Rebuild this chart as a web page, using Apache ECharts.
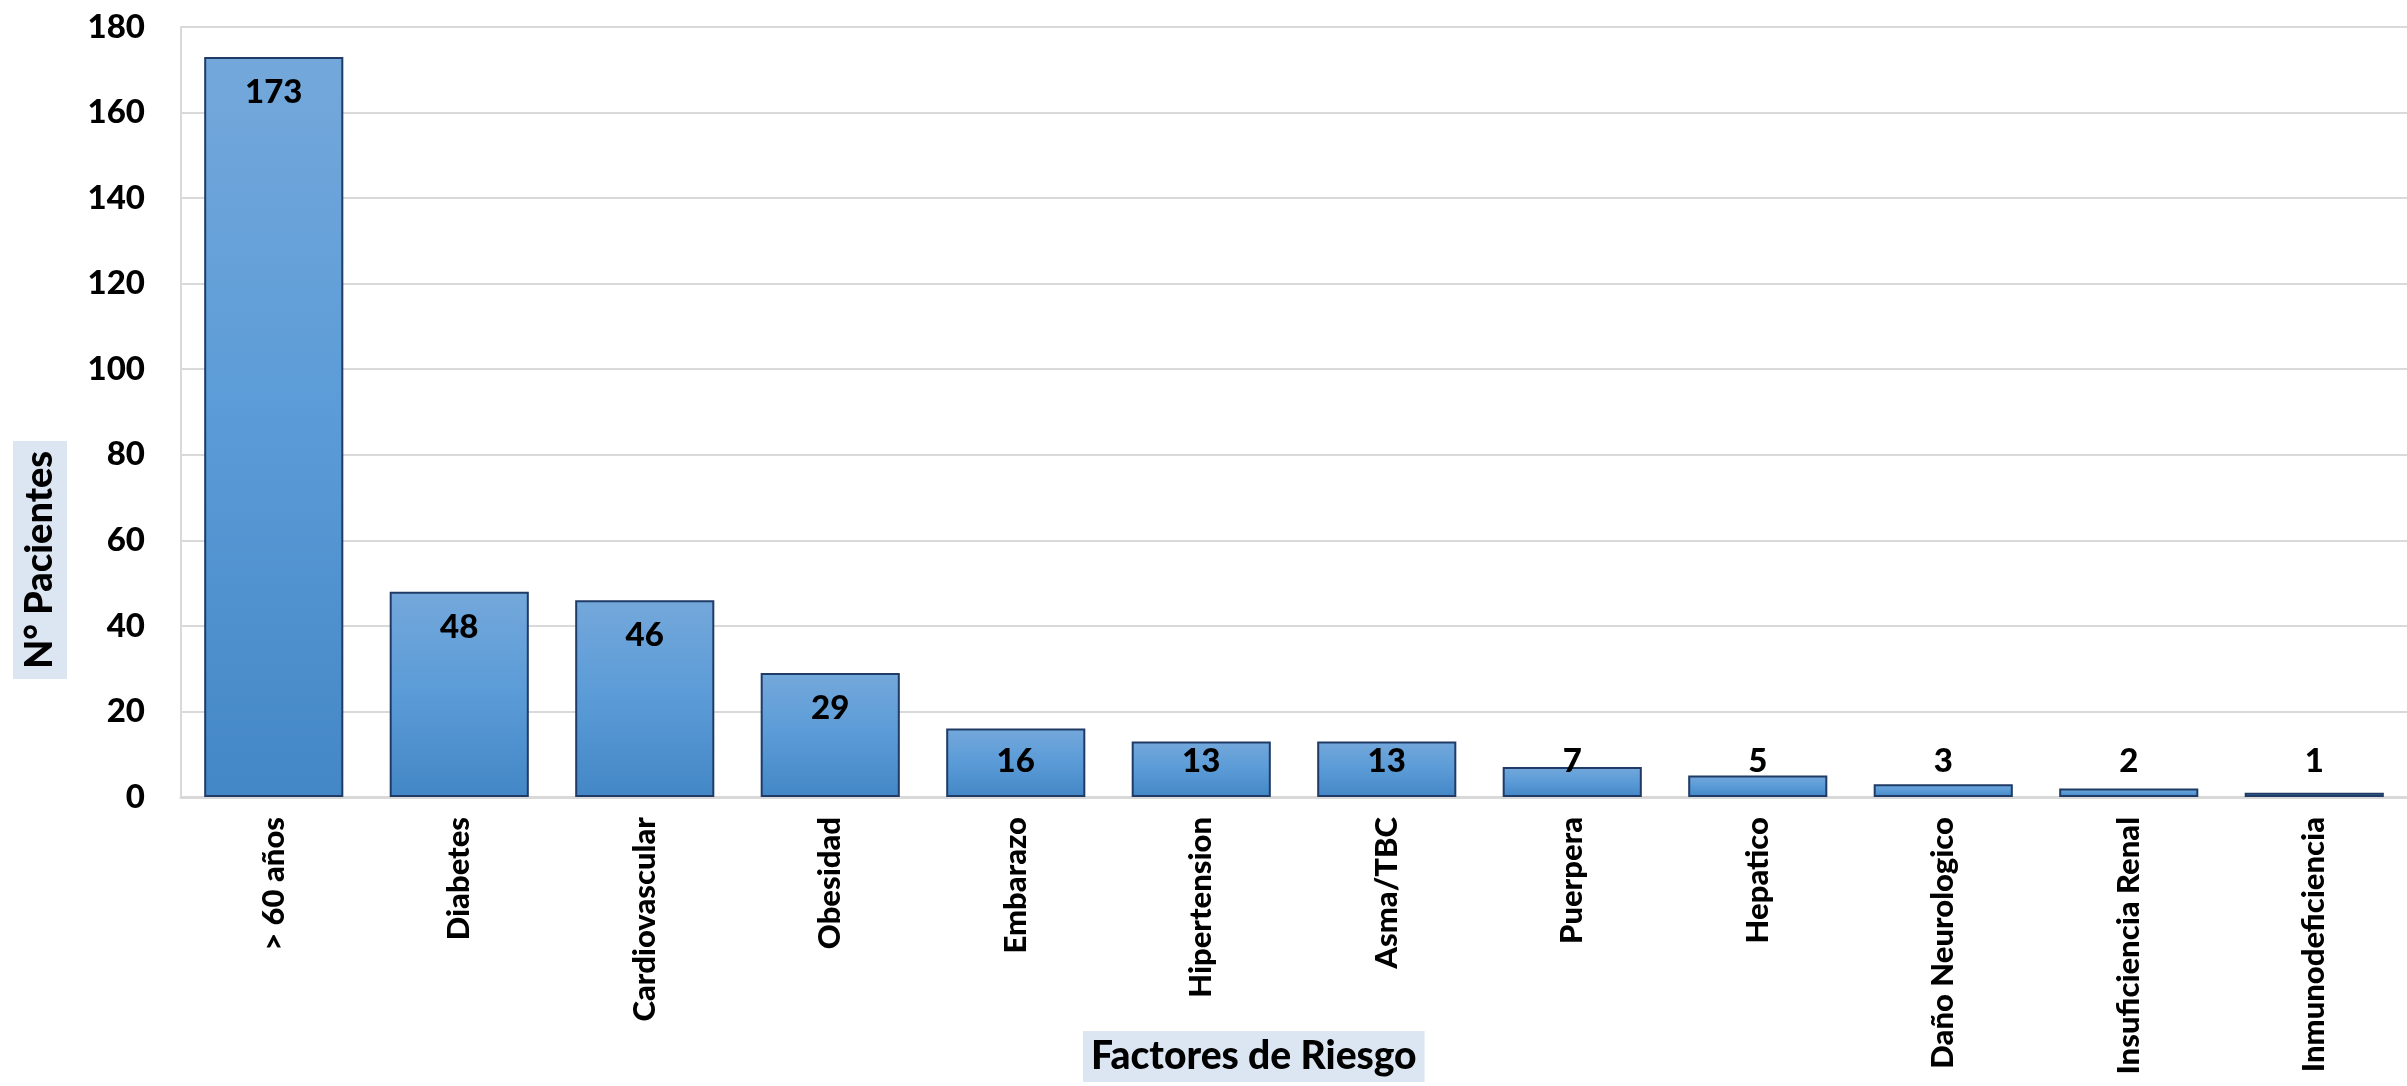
<!DOCTYPE html>
<html>
<head>
<meta charset="utf-8">
<script src="https://cdn.jsdelivr.net/npm/echarts@6/dist/echarts.min.js"></script>
<style>
html,body{margin:0;padding:0;background:#fff;}
#chart{width:2407px;height:1086px;}
</style>
</head>
<body>
<div id="chart"></div>
<script>
var categories = ['> 60 años','Diabetes','Cardiovascular','Obesidad','Embarazo','Hipertension','Asma/TBC','Puerpera','Hepatico','Daño Neurologico','Insuficiencia Renal','Inmunodeficiencia'];
var values = [173, 48, 46, 29, 16, 13, 13, 7, 5, 3, 2, 1];
var yTicks = [0, 20, 40, 60, 80, 100, 120, 140, 160, 180];
var xTitle = 'Factores de Riesgo';
var yTitle = 'N° Pacientes';

var FONT = 'Lato';
var WEIGHT = 900;
var chart = echarts.init(document.getElementById('chart'), null, {renderer: 'canvas'});

var barGradient = new echarts.graphic.LinearGradient(0, 0, 0, 1, [
  {offset: 0, color: '#74A8DB'},
  {offset: 0.5, color: '#5A9BD7'},
  {offset: 1, color: '#4487C6'}
]);

var seriesData = values.map(function (v) {
  return {
    value: v,
    label: {position: v >= 20 ? 'insideTop' : 'insideBottom'}
  };
});

chart.setOption({
  animation: false,
  backgroundColor: '#ffffff',
  grid: {left: 181, width: 2233, top: 27, bottom: 289, containLabel: false},
  xAxis: {
    type: 'category',
    data: categories,
    axisLine: {show: true, lineStyle: {color: '#D9D9D9', width: 3}},
    axisTick: {show: false},
    axisLabel: {
      rotate: 90, interval: 0, margin: 20,
      fontFamily: FONT, fontWeight: WEIGHT, fontSize: 31, color: '#000'
    }
  },
  yAxis: {
    type: 'value',
    min: yTicks[0], max: yTicks[yTicks.length - 1], interval: yTicks[1] - yTicks[0],
    axisLine: {show: true, lineStyle: {color: '#D9D9D9', width: 2}},
    axisTick: {show: false},
    splitLine: {show: true, lineStyle: {color: '#D9D9D9', width: 2}},
    axisLabel: {
      margin: 36, fontFamily: FONT, fontWeight: WEIGHT, fontSize: 33, color: '#000'
    }
  },
  series: [{
    type: 'bar',
    data: seriesData,
    barCategoryGap: '25%',
    itemStyle: {color: barGradient, borderColor: '#1F3B66', borderWidth: 2},
    label: {
      show: true, distance: 19,
      fontFamily: FONT, fontWeight: WEIGHT, fontSize: 33, color: '#000'
    }
  }],
  graphic: [
    {
      type: 'text',
      left: 1083, top: 1031,
      style: {
        text: xTitle,
        fontFamily: FONT, fontWeight: WEIGHT, fontSize: 39, fill: '#000',
        backgroundColor: '#DCE6F2', padding: [6, 8, 6, 8]
      }
    },
    {
      type: 'text',
      x: 40, y: 560,
      rotation: Math.PI / 2,
      style: {
        text: yTitle,
        fontFamily: FONT, fontWeight: WEIGHT, fontSize: 38, fill: '#000',
        align: 'center', verticalAlign: 'middle',
        backgroundColor: '#DCE6F2', padding: [8, 10, 8, 10]
      }
    }
  ]
});
</script>
</body>
</html>
